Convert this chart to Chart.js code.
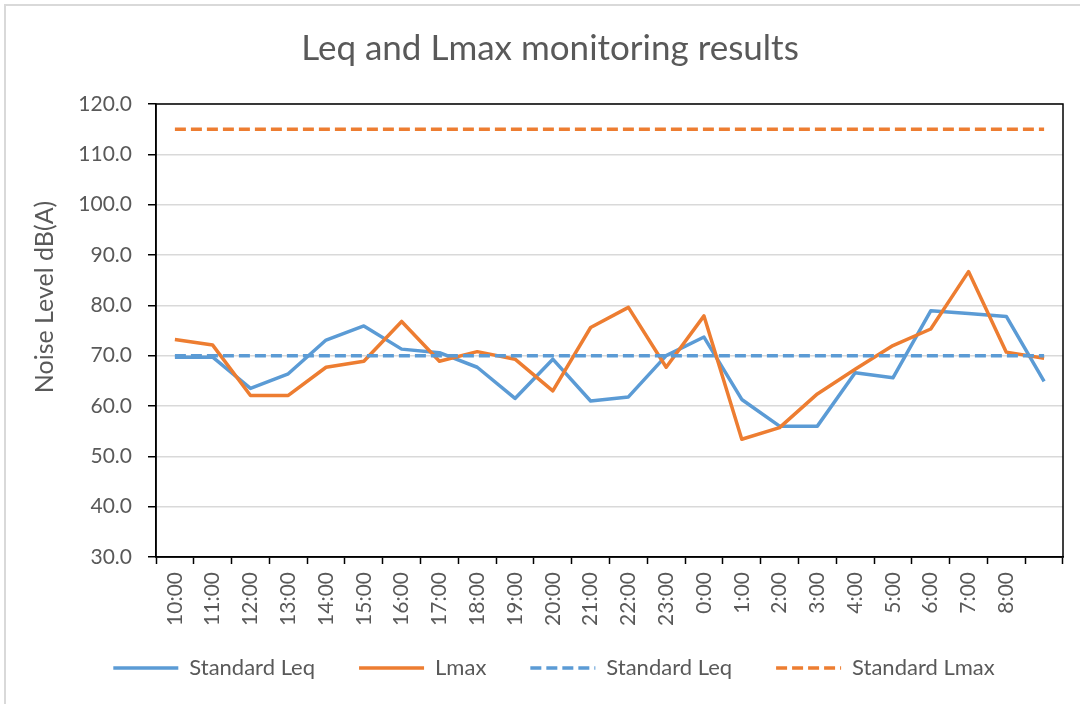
<!DOCTYPE html>
<html>
<head>
<meta charset="utf-8">
<script src="https://cdn.jsdelivr.net/npm/chart.js@4.4.1/dist/chart.umd.min.js"></script>
<style>
  html, body { margin: 0; padding: 0; background: #fff; }
  #wrap { position: relative; width: 1080px; height: 704px; overflow: hidden; }
  #frame { position: absolute; left: 4px; top: 4px; width: 1100px; height: 720px;
           border-left: 2px solid #d9d9d9; border-top: 2px solid #d9d9d9; pointer-events: none; }
  canvas { position: absolute; left: 0; top: 0; }
</style>
</head>
<body>
<div id="wrap">
  <canvas id="c" width="1080" height="704"></canvas>
  <div id="frame"></div>
</div>
<script>
const categories = ['10:00','11:00','12:00','13:00','14:00','15:00','16:00','17:00','18:00','19:00','20:00','21:00','22:00','23:00','0:00','1:00','2:00','3:00','4:00','5:00','6:00','7:00','8:00',''];
const leqValues = [69.7,69.7,63.5,66.4,73.1,75.9,71.3,70.6,67.7,61.5,69.3,61.0,61.8,70.0,73.7,61.3,56.0,56.0,66.6,65.6,78.9,78.4,77.8,64.9];
const lmaxValues = [73.2,72.1,62.1,62.1,67.7,68.9,76.8,68.9,70.8,69.3,63.0,75.6,79.6,67.7,77.9,53.4,55.7,62.4,67.3,72.0,75.3,86.7,70.7,69.5];
const standardLeq = [70,70,70,70,70,70,70,70,70,70,70,70,70,70,70,70,70,70,70,70,70,70,70,70];
const standardLmax = [115,115,115,115,115,115,115,115,115,115,115,115,115,115,115,115,115,115,115,115,115,115,115,115];
const yTicks = [30,40,50,60,70,80,90,100,110,120];
const seriesNames = ['Standard Leq','Lmax','Standard Leq','Standard Lmax'];
const titleText = 'Leq and Lmax monitoring results';
const yTitleText = 'Noise Level dB(A)';

const BLUE = '#5B9BD5', ORANGE = '#ED7D31', TXT = '#595959';
const FONT = 'Lato';
const DASH = [11, 5];
const LW = 3.5;

const frameBox = {
  id: 'frameBox',
  beforeDatasetsDraw(chart) {
    const {ctx, chartArea: a} = chart;
    ctx.save();
    ctx.strokeStyle = '#000';
    ctx.lineWidth = 1.5;
    ctx.strokeRect(a.left, a.top, a.right - a.left, a.bottom - a.top);
    ctx.restore();
  }
};
const yTitle = {
  id: 'yTitle',
  afterDraw(chart) {
    const {ctx} = chart;
    ctx.save();
    ctx.translate(45, 297);
    ctx.rotate(-Math.PI / 2);
    ctx.fillStyle = TXT;
    ctx.font = 'normal 25px ' + FONT;
    ctx.textAlign = 'center';
    ctx.textBaseline = 'middle';
    ctx.fillText(yTitleText, 0, 0);
    ctx.restore();
  }
};
const legendShift = {
  id: 'legendShift',
  afterLayout(chart) {
    const lg = chart.legend;
    if (lg) { lg.top -= 15; lg.bottom -= 15; lg.left += 4; lg.right += 4; }
  }
};

const lineDs = (label, data, color, dash, order) => ({
  label, data, borderColor: color, backgroundColor: color, borderWidth: LW,
  borderDash: dash, pointRadius: 0, pointHoverRadius: 0, tension: 0, fill: false, order,
  borderCapStyle: 'butt', borderJoinStyle: 'round'
});

new Chart(document.getElementById('c'), {
  type: 'line',
  data: {
    labels: categories,
    datasets: [
      lineDs(seriesNames[0], leqValues, BLUE, [], 4),
      lineDs(seriesNames[1], lmaxValues, ORANGE, [], 3),
      lineDs(seriesNames[2], standardLeq, BLUE, DASH, 2),
      lineDs(seriesNames[3], standardLmax, ORANGE, DASH, 1)
    ]
  },
  options: {
    responsive: false,
    animation: false,
    events: [],
    layout: { padding: { left: 37, right: 17, top: 0, bottom: 0 } },
    plugins: {
      title: {
        display: true, text: titleText, color: TXT,
        font: { family: FONT, size: 35, weight: 'normal', lineHeight: 1.2 },
        padding: { top: 28, bottom: 34 }
      },
      legend: {
        position: 'bottom',
        labels: {
          color: TXT, font: { family: FONT, size: 22 },
          usePointStyle: true, pointStyle: 'line', pointStyleWidth: 65,
          boxHeight: 20, padding: 44,
          sort: (a, b) => a.datasetIndex - b.datasetIndex,
          generateLabels(chart) {
            const items = Chart.defaults.plugins.legend.labels.generateLabels(chart);
            items.forEach(it => {
              const ds = chart.data.datasets[it.datasetIndex];
              it.lineDash = ds.borderDash;
              it.lineWidth = LW;
              it.strokeStyle = ds.borderColor;
              it.fillStyle = ds.borderColor;
              it.lineCap = 'butt';
              it.pointStyle = 'line';
            });
            return items;
          }
        }
      },
      tooltip: { enabled: false }
    },
    scales: {
      x: {
        offset: true,
        afterFit(scale) { scale.height = 71; },
        grid: { offset: true, drawOnChartArea: false, drawTicks: true, tickLength: 7, tickColor: '#000', tickWidth: 1.5 },
        border: { display: true, color: '#000', width: 1.5 },
        ticks: { color: TXT, font: { family: FONT, size: 21 }, autoSkip: false, maxRotation: 90, minRotation: 90, padding: 8 }
      },
      y: {
        min: 30, max: 120,
        afterFit(scale) { scale.width = 119; },
        afterBuildTicks(scale) { scale.ticks = yTicks.map(v => ({ value: v })); },
        grid: { color: '#d9d9d9', lineWidth: 1.5, tickColor: '#000', tickLength: 8, tickWidth: 1.5 },
        border: { display: true, color: '#000', width: 1.5 },
        ticks: { color: TXT, font: { family: FONT, size: 21 }, padding: 16, callback: v => Number(v).toFixed(1) }
      }
    }
  },
  plugins: [frameBox, yTitle, legendShift]
});
</script>
</body>
</html>
